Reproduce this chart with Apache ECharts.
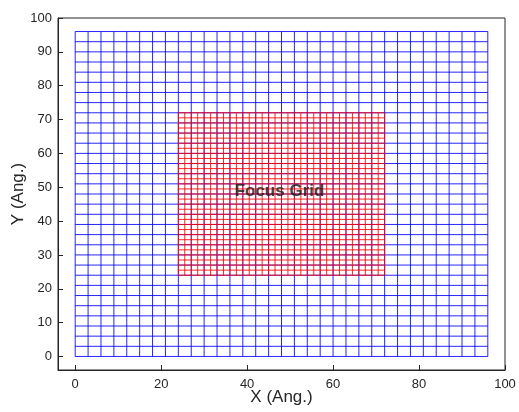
<!DOCTYPE html>
<html>
<head>
<meta charset="utf-8">
<script src="https://cdn.jsdelivr.net/npm/echarts@6/dist/echarts.min.js"></script>
<style>html,body{margin:0;padding:0;background:#fff;}#c{width:519px;height:412px;}</style>
</head>
<body>
<div id="c"></div>
<script>
// Coarse (blue) grid line positions, both axes
var blueLines = [0,3,6,9,12,15,18,21,24,27,30,33,36,39,42,45,48,51,54,57,60,63,66,69,72,75,78,81,84,87,90,93,96];
// Focus (red) grid line positions, both axes
var redLines = [24,25.5,27,28.5,30,31.5,33,34.5,36,37.5,39,40.5,42,43.5,45,46.5,48,49.5,51,52.5,54,55.5,57,58.5,60,61.5,63,64.5,66,67.5,69,70.5,72];
var xTicks = [0,20,40,60,80,100];
var yTicks = [0,10,20,30,40,50,60,70,80,90,100];
var labelText = 'Focus Grid';
var labelPos = [48,48];

function gridSegments(pos) {
  var lo = pos[0], hi = pos[pos.length - 1], segs = [];
  pos.forEach(function (v) {
    segs.push([v, lo, v, hi]);
    segs.push([lo, v, hi, v]);
  });
  return segs;
}

function segRenderer(color) {
  return function (params, api) {
    var p0 = api.coord([api.value(0), api.value(1)]);
    var p1 = api.coord([api.value(2), api.value(3)]);
    return {
      type: 'line',
      shape: {x1: p0[0], y1: p0[1], x2: p1[0], y2: p1[1]},
      style: {stroke: color, lineWidth: 1, opacity: 0.85}
    };
  };
}

var font = 'Liberation Sans, Arial, Helvetica, sans-serif';
var chart = echarts.init(document.getElementById('c'), null, {renderer: 'canvas'});
chart.setOption({
  animation: false,
  backgroundColor: '#fff',
  grid: {left: 58, top: 18, right: 14, bottom: 42, outerBoundsMode: 'none', containLabel: false,
         show: true, borderColor: '#262626', borderWidth: 1, backgroundColor: 'transparent'},
  xAxis: {
    type: 'value', min: -4, max: 100,
    axisLine: {show: true, onZero: false, lineStyle: {color: '#262626', width: 1}},
    axisTick: {show: true, inside: true, length: 5, customValues: xTicks, lineStyle: {color: '#262626'}},
    axisLabel: {customValues: xTicks, color: '#262626', fontSize: 13, fontFamily: font, margin: 8},
    splitLine: {show: false},
    name: 'X (Ang.)', nameLocation: 'middle', nameGap: 19, nameMoveOverlap: false,
    nameTextStyle: {color: '#262626', fontSize: 17, fontFamily: font}
  },
  yAxis: {
    type: 'value', min: -4, max: 100,
    axisLine: {show: true, onZero: false, lineStyle: {color: '#262626', width: 1}},
    axisTick: {show: true, inside: true, length: 5, customValues: yTicks, lineStyle: {color: '#262626'}},
    axisLabel: {customValues: yTicks, color: '#262626', fontSize: 13, fontFamily: font, margin: 6},
    splitLine: {show: false},
    name: 'Y (Ang.)', nameLocation: 'middle', nameGap: 31, nameMoveOverlap: false,
    nameTextStyle: {color: '#262626', fontSize: 17, fontFamily: font}
  },
  series: [
    {type: 'custom', coordinateSystem: 'cartesian2d', data: gridSegments(blueLines),
     renderItem: segRenderer('#0000ff'), encode: {x: [0, 2], y: [1, 3]}, silent: true, z: 2, clip: false},
    {type: 'custom', coordinateSystem: 'cartesian2d', data: gridSegments(redLines),
     renderItem: segRenderer('#ff0000'), encode: {x: [0, 2], y: [1, 3]}, silent: true, z: 3, clip: false},
    {type: 'scatter', data: [labelPos], symbolSize: 0, silent: true, z: 5,
     label: {show: true, position: 'inside', offset: [-2, -3], formatter: labelText, color: '#1a1a1a', fontSize: 17, fontWeight: 'bold', fontFamily: font}}
  ]
});
</script>
</body>
</html>
